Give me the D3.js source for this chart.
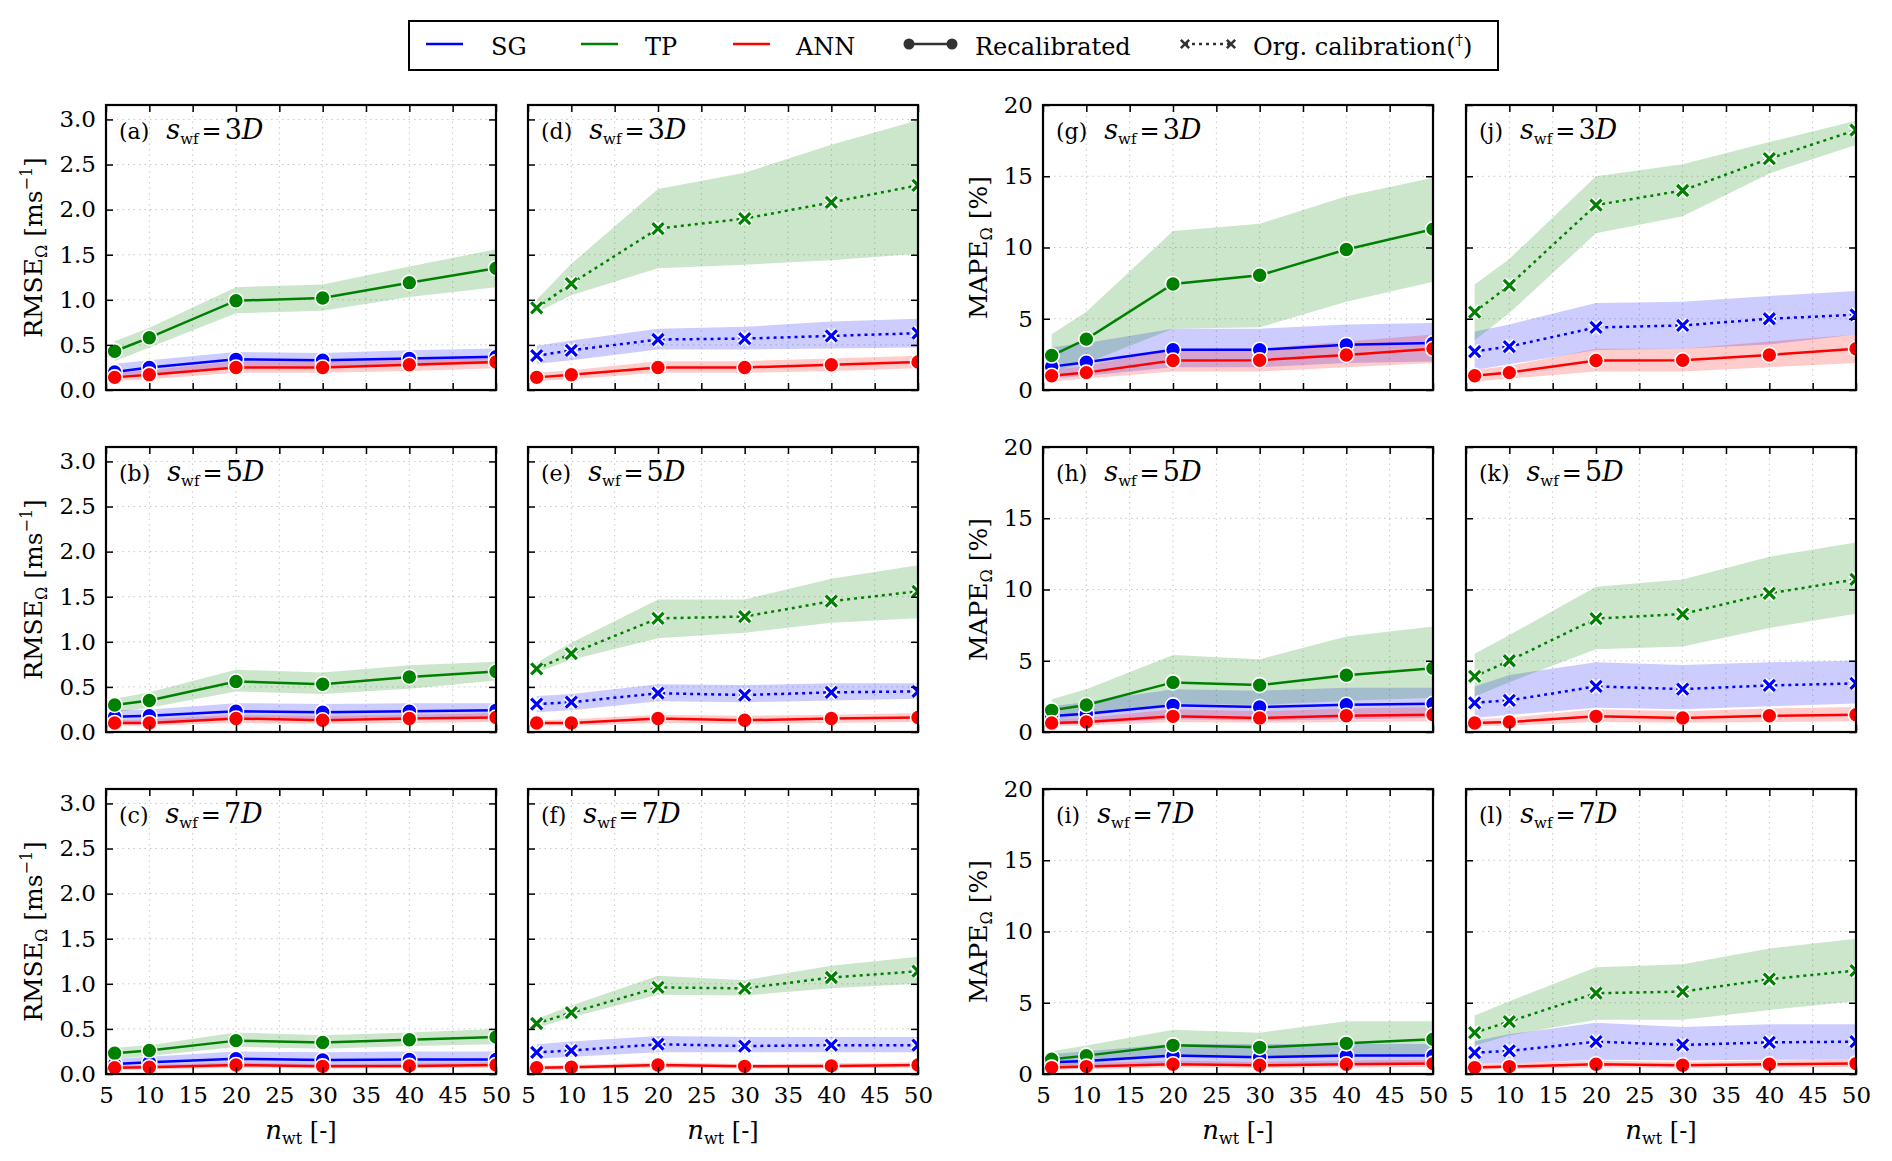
<!DOCTYPE html>
<html>
<head>
<meta charset="utf-8">
<script src="https://cdn.jsdelivr.net/npm/d3@7"></script>
<style>
  body { margin: 0; background: #fff; }
  text { fill: #000; }
</style>
</head>
<body>
<div id="plot"></div>
<script>
// n_wt values and tick labels
const nwt = [6, 10, 20, 30, 40, 50];
const xTicks = [5, 10, 15, 20, 25, 30, 35, 40, 45, 50];
const rmseTicks = [0, 0.5, 1.0, 1.5, 2.0, 2.5, 3.0];
const mapeTicks = [0, 5, 10, 15, 20];
const spacings = ["3", "5", "7"];
const letters = [["a", "b", "c"], ["d", "e", "f"], ["g", "h", "i"], ["j", "k", "l"]];

// each point: [lower, mean, upper]; rows: s_wf = 3D, 5D, 7D
const rmseSgRecal = [
  [[0.13, 0.20, 0.29], [0.17, 0.25, 0.33], [0.26, 0.34, 0.42], [0.25, 0.33, 0.41], [0.27, 0.35, 0.44], [0.29, 0.37, 0.46]],
  [[0.10, 0.17, 0.24], [0.11, 0.18, 0.25], [0.15, 0.23, 0.32], [0.14, 0.22, 0.31], [0.15, 0.23, 0.32], [0.16, 0.24, 0.32]],
  [[0.06, 0.11, 0.17], [0.07, 0.13, 0.19], [0.10, 0.17, 0.25], [0.09, 0.155, 0.24], [0.10, 0.16, 0.25], [0.10, 0.16, 0.25]]
];
const rmseTpRecal = [
  [[0.32, 0.43, 0.54], [0.47, 0.58, 0.69], [0.85, 0.99, 1.14], [0.88, 1.02, 1.17], [1.03, 1.19, 1.37], [1.14, 1.35, 1.56]],
  [[0.22, 0.30, 0.37], [0.27, 0.35, 0.44], [0.45, 0.56, 0.69], [0.42, 0.53, 0.66], [0.48, 0.61, 0.74], [0.57, 0.67, 0.78]],
  [[0.17, 0.23, 0.29], [0.20, 0.26, 0.32], [0.30, 0.37, 0.46], [0.28, 0.35, 0.43], [0.31, 0.38, 0.46], [0.33, 0.41, 0.50]]
];
const rmseAnn = [
  [[0.10, 0.14, 0.19], [0.12, 0.17, 0.22], [0.19, 0.25, 0.32], [0.19, 0.25, 0.32], [0.21, 0.28, 0.35], [0.24, 0.31, 0.38]],
  [[0.07, 0.10, 0.13], [0.07, 0.10, 0.14], [0.10, 0.15, 0.19], [0.09, 0.13, 0.18], [0.10, 0.15, 0.19], [0.11, 0.16, 0.21]],
  [[0.045, 0.07, 0.095], [0.05, 0.075, 0.10], [0.07, 0.10, 0.13], [0.06, 0.085, 0.11], [0.065, 0.09, 0.12], [0.07, 0.10, 0.13]]
];
const rmseSgOrg = [
  [[0.29, 0.38, 0.49], [0.33, 0.44, 0.55], [0.45, 0.56, 0.68], [0.45, 0.57, 0.70], [0.46, 0.60, 0.76], [0.47, 0.63, 0.79]],
  [[0.22, 0.31, 0.40], [0.24, 0.33, 0.42], [0.34, 0.43, 0.53], [0.33, 0.41, 0.52], [0.35, 0.44, 0.54], [0.37, 0.45, 0.54]],
  [[0.17, 0.24, 0.33], [0.19, 0.26, 0.36], [0.24, 0.33, 0.42], [0.24, 0.31, 0.41], [0.24, 0.32, 0.41], [0.24, 0.32, 0.41]]
];
const rmseTpOrg = [
  [[0.86, 0.91, 1.00], [1.05, 1.18, 1.40], [1.35, 1.79, 2.23], [1.39, 1.90, 2.41], [1.44, 2.08, 2.72], [1.51, 2.27, 2.99]],
  [[0.66, 0.70, 0.77], [0.80, 0.87, 0.99], [1.04, 1.26, 1.47], [1.10, 1.28, 1.47], [1.21, 1.45, 1.70], [1.26, 1.56, 1.85]],
  [[0.51, 0.56, 0.61], [0.63, 0.68, 0.76], [0.88, 0.96, 1.09], [0.87, 0.95, 1.04], [0.95, 1.07, 1.20], [1.00, 1.14, 1.30]]
];
const mapeSgRecal = [
  [[0.8, 1.64, 3.0], [1.0, 1.95, 3.3], [1.6, 2.82, 4.3], [1.6, 2.82, 4.3], [1.9, 3.17, 4.6], [2.0, 3.29, 4.7]],
  [[0.5, 1.12, 1.8], [0.6, 1.28, 2.1], [0.9, 1.87, 3.0], [0.8, 1.75, 2.9], [0.9, 1.91, 3.1], [1.0, 1.98, 3.1]],
  [[0.4, 0.82, 1.4], [0.45, 0.91, 1.6], [0.65, 1.29, 2.1], [0.6, 1.17, 2.1], [0.65, 1.29, 2.1], [0.65, 1.29, 2.1]]
];
const mapeTpRecal = [
  [[1.3, 2.42, 3.92], [1.9, 3.57, 5.5], [4.3, 7.44, 11.15], [4.4, 8.05, 11.67], [6.2, 9.86, 13.6], [7.6, 11.29, 14.9]],
  [[0.9, 1.52, 2.3], [1.1, 1.89, 3.0], [2.0, 3.48, 5.4], [1.9, 3.29, 5.1], [2.2, 3.99, 6.7], [2.4, 4.48, 7.4]],
  [[0.6, 1.03, 1.6], [0.75, 1.29, 2.0], [1.2, 2.01, 3.1], [1.1, 1.87, 2.9], [1.2, 2.15, 3.7], [1.3, 2.44, 3.7]]
];
const mapeAnn = [
  [[0.6, 1.0, 1.4], [0.8, 1.22, 1.7], [1.3, 2.07, 2.9], [1.3, 2.09, 2.9], [1.6, 2.46, 3.4], [1.9, 2.89, 3.9]],
  [[0.4, 0.63, 0.9], [0.45, 0.70, 1.0], [0.7, 1.10, 1.6], [0.65, 0.98, 1.45], [0.7, 1.14, 1.65], [0.75, 1.21, 1.75]],
  [[0.3, 0.45, 0.65], [0.35, 0.52, 0.75], [0.45, 0.68, 0.95], [0.42, 0.61, 0.85], [0.45, 0.68, 0.95], [0.5, 0.73, 1.0]]
];
const mapeSgOrg = [
  [[1.4, 2.7, 4.1], [1.8, 3.05, 4.6], [2.8, 4.39, 6.1], [2.9, 4.53, 6.2], [3.2, 5.0, 6.6], [3.9, 5.28, 6.95]],
  [[1.0, 2.05, 3.2], [1.2, 2.22, 4.0], [1.7, 3.2, 4.9], [1.6, 3.01, 4.7], [1.8, 3.27, 4.9], [2.0, 3.41, 5.0]],
  [[0.7, 1.5, 2.3], [0.75, 1.62, 2.8], [1.0, 2.27, 3.6], [0.95, 2.04, 3.3], [1.0, 2.22, 3.5], [1.0, 2.27, 3.5]]
];
const mapeTpOrg = [
  [[3.5, 5.47, 7.4], [5.4, 7.35, 9.2], [11.0, 12.98, 15.0], [12.2, 14.0, 15.85], [15.2, 16.24, 17.4], [17.2, 18.24, 18.9]],
  [[2.5, 3.9, 5.5], [3.5, 5.0, 6.8], [5.8, 7.96, 10.2], [6.0, 8.28, 10.7], [7.3, 9.73, 12.3], [8.3, 10.71, 13.3]],
  [[2.0, 2.9, 4.1], [2.7, 3.68, 5.1], [3.8, 5.67, 7.5], [3.8, 5.78, 7.7], [4.5, 6.65, 8.8], [5.1, 7.26, 9.5]]
];

const colors = { SG: "#0000ff", TP: "#008000", ANN: "#ff0000" };

// layout
const W = 1892, H = 1161;
const colLeft = [106, 528, 1043, 1466];
const rowTop = [105, 447, 789];
const pw = 390, ph = 285;
const serif = "'DejaVu Serif', serif";

const svg = d3.select("#plot").append("svg")
  .attr("width", W)
  .attr("height", H);

svg.append("rect").attr("width", W).attr("height", H).attr("fill", "#fff");

// columns: metric + which calibration the SG/TP lines show
const columns = [
  { ticks: rmseTicks, ymax: 3.16, fmt: d3.format(".1f"), series: [["SG", rmseSgRecal, false], ["TP", rmseTpRecal, false], ["ANN", rmseAnn, false]] },
  { ticks: rmseTicks, ymax: 3.16, fmt: d3.format(".1f"), series: [["SG", rmseSgOrg, true], ["TP", rmseTpOrg, true], ["ANN", rmseAnn, false]] },
  { ticks: mapeTicks, ymax: 20, fmt: d3.format("d"), series: [["SG", mapeSgRecal, false], ["TP", mapeTpRecal, false], ["ANN", mapeAnn, false]] },
  { ticks: mapeTicks, ymax: 20, fmt: d3.format("d"), series: [["SG", mapeSgOrg, true], ["TP", mapeTpOrg, true], ["ANN", mapeAnn, false]] }
];

const xMark = "M-5.5,-5.5L5.5,5.5M-5.5,5.5L5.5,-5.5";

columns.forEach((col, c) => {
  spacings.forEach((sp, r) => {
    const x = d3.scaleLinear().domain([5, 50]).range([0, pw]);
    const y = d3.scaleLinear().domain([0, col.ymax]).range([ph, 0]);
    const g = svg.append("g").attr("transform", `translate(${colLeft[c]},${rowTop[r]})`);
    const clipId = `clip-${c}-${r}`;
    g.append("clipPath").attr("id", clipId)
      .append("rect").attr("width", pw).attr("height", ph);

    // dotted grid
    g.append("g").selectAll("line")
      .data(xTicks.slice(1, -1))
      .join("line")
      .attr("x1", d => x(d)).attr("x2", d => x(d))
      .attr("y1", 0).attr("y2", ph)
      .attr("stroke", "#c8c8c8").attr("stroke-width", 1).attr("stroke-dasharray", "1.5,4");
    g.append("g").selectAll("line")
      .data(col.ticks.filter(t => t > 0 && t < col.ymax))
      .join("line")
      .attr("x1", 0).attr("x2", pw)
      .attr("y1", d => y(d)).attr("y2", d => y(d))
      .attr("stroke", "#c8c8c8").attr("stroke-width", 1).attr("stroke-dasharray", "1.5,4");

    const plot = g.append("g").attr("clip-path", `url(#${clipId})`);

    // bands first
    const area = d3.area()
      .x((d, i) => x(nwt[i]))
      .y0(d => y(d[0]))
      .y1(d => y(d[2]));
    col.series.forEach(([name, data]) => {
      plot.append("path")
        .attr("d", area(data[r]))
        .attr("fill", colors[name])
        .attr("fill-opacity", 0.2);
    });

    // lines and markers
    const line = d3.line()
      .x((d, i) => x(nwt[i]))
      .y(d => y(d[1]));
    col.series.forEach(([name, data, org]) => {
      plot.append("path")
        .attr("d", line(data[r]))
        .attr("fill", "none")
        .attr("stroke", colors[name])
        .attr("stroke-width", 2.5)
        .attr("stroke-dasharray", org ? "3,4" : null);
      const pts = plot.append("g").selectAll("g")
        .data(data[r])
        .join("g")
        .attr("transform", (d, i) => `translate(${x(nwt[i])},${y(d[1])})`);
      if (org) {
        pts.append("path").attr("d", xMark).attr("stroke", "#fff").attr("stroke-width", 6.5);
        pts.append("path").attr("d", xMark).attr("stroke", colors[name]).attr("stroke-width", 3.2);
      } else {
        pts.append("circle").attr("r", 7.5)
          .attr("fill", colors[name])
          .attr("stroke", "#fff").attr("stroke-width", 1.6);
      }
    });

    // axes with inward ticks on all four sides
    const showX = r === 2, showY = c === 0 || c === 2;
    const styleAxis = sel => {
      sel.select(".domain").remove();
      sel.selectAll(".tick line").attr("stroke", "#000").attr("stroke-width", 1.5);
      sel.selectAll("text").style("font-family", serif).style("font-size", "23px").attr("fill", "#000");
    };
    g.append("g").attr("transform", `translate(0,${ph})`)
      .call(d3.axisBottom(x).tickValues(xTicks).tickSize(-7).tickPadding(13)
        .tickFormat(showX ? d3.format("d") : ""))
      .call(styleAxis);
    g.append("g")
      .call(d3.axisTop(x).tickValues(xTicks).tickSize(-7).tickFormat(""))
      .call(styleAxis);
    g.append("g")
      .call(d3.axisLeft(y).tickValues(col.ticks).tickSize(-7).tickPadding(10)
        .tickFormat(showY ? col.fmt : ""))
      .call(styleAxis);
    g.append("g").attr("transform", `translate(${pw},0)`)
      .call(d3.axisRight(y).tickValues(col.ticks).tickSize(-7).tickFormat(""))
      .call(styleAxis);

    g.append("rect")
      .attr("width", pw).attr("height", ph)
      .attr("fill", "none").attr("stroke", "#000").attr("stroke-width", 2.2);

    // panel label: (x)  s_wf = nD
    const lab = g.append("text").attr("x", 13).attr("y", 34)
      .style("font-family", serif).style("font-size", "22px");
    lab.append("tspan").text(`(${letters[c][r]})`);
    lab.append("tspan").attr("dx", 17).style("font-style", "italic").style("font-size", "27px").text("s");
    lab.append("tspan").attr("dy", 5).style("font-size", "15px").text("wf");
    lab.append("tspan").attr("dy", -5).attr("dx", 3).style("font-size", "24px").text("=");
    lab.append("tspan").attr("dx", 3).style("font-size", "27px").text(sp);
    lab.append("tspan").style("font-style", "italic").style("font-size", "27px").text("D");

    // y label
    if (showY) {
      const lx = c === 0 ? 42 : 987;
      const ly = rowTop[r] + ph / 2;
      const yl = svg.append("text")
        .attr("transform", `translate(${lx},${ly}) rotate(-90)`)
        .attr("text-anchor", "middle")
        .style("font-family", serif)
        .style("font-size", "25px");
      if (c === 0) {
        yl.append("tspan").text("RMSE");
        yl.append("tspan").attr("dy", 5).style("font-size", "16px").text("Ω");
        yl.append("tspan").attr("dy", -5).text(" [ms");
        yl.append("tspan").attr("dy", -10).style("font-size", "16px").text("−1");
        yl.append("tspan").attr("dy", 10).text("]");
      } else {
        yl.append("tspan").text("MAPE");
        yl.append("tspan").attr("dy", 5).style("font-size", "16px").text("Ω");
        yl.append("tspan").attr("dy", -5).text(" [%]");
      }
    }

    // x label
    if (showX) {
      const xl = svg.append("text")
        .attr("x", colLeft[c] + pw / 2)
        .attr("y", 1139)
        .attr("text-anchor", "middle")
        .style("font-family", serif)
        .style("font-size", "24px");
      xl.append("tspan").style("font-style", "italic").style("font-size", "26px").text("n");
      xl.append("tspan").attr("dy", 5).style("font-size", "16px").text("wt");
      xl.append("tspan").attr("dy", -5).text(" [-]");
    }
  });
});

// legend
const leg = svg.append("g");
leg.append("rect")
  .attr("x", 409).attr("y", 21).attr("width", 1089).attr("height", 49)
  .attr("fill", "#fff").attr("stroke", "#000").attr("stroke-width", 2);

const legY = 44;
const legendModels = [["SG", 426, 491], ["TP", 581, 645], ["ANN", 733, 796]];
legendModels.forEach(([name, x0, tx]) => {
  leg.append("line")
    .attr("x1", x0).attr("x2", x0 + 37).attr("y1", legY).attr("y2", legY)
    .attr("stroke", colors[name]).attr("stroke-width", 2.5);
  leg.append("text").attr("x", tx).attr("y", 55)
    .style("font-family", serif).style("font-size", "24px").text(name);
});

leg.append("line")
  .attr("x1", 909).attr("x2", 952).attr("y1", legY).attr("y2", legY)
  .attr("stroke", "#333").attr("stroke-width", 2.5);
[909, 952].forEach(cx => leg.append("circle").attr("cx", cx).attr("cy", legY).attr("r", 5.5).attr("fill", "#333"));
leg.append("text").attr("x", 975).attr("y", 55)
  .style("font-family", serif).style("font-size", "24px").text("Recalibrated");

leg.append("line")
  .attr("x1", 1185).attr("x2", 1231).attr("y1", legY).attr("y2", legY)
  .attr("stroke", "#333").attr("stroke-width", 2.5).attr("stroke-dasharray", "3,4");
[1185, 1231].forEach(cx => leg.append("path")
  .attr("transform", `translate(${cx},${legY}) scale(0.75)`)
  .attr("d", xMark).attr("stroke", "#333").attr("stroke-width", 3.5));
const orgText = leg.append("text").attr("x", 1253).attr("y", 55)
  .style("font-family", serif).style("font-size", "24px");
orgText.append("tspan").text("Org. calibration(");
orgText.append("tspan").attr("dy", -10).style("font-size", "15px").text("†");
orgText.append("tspan").attr("dy", 10).text(")");
</script>
</body>
</html>
